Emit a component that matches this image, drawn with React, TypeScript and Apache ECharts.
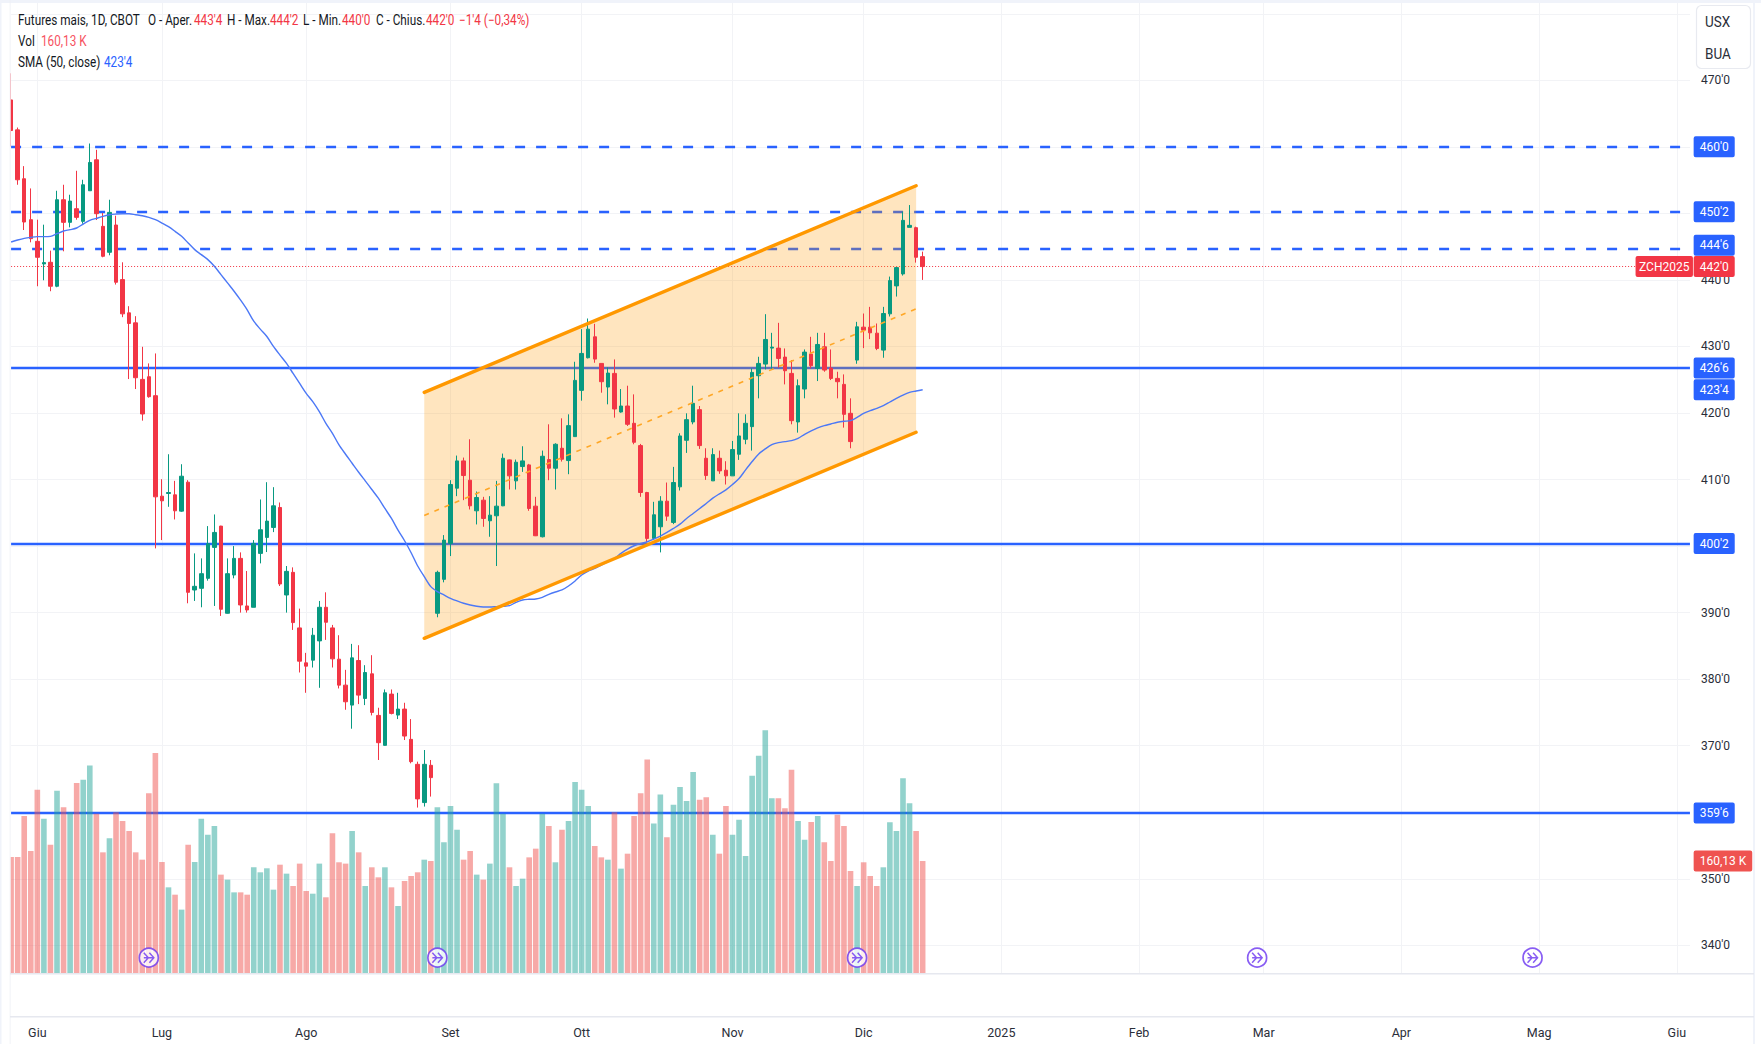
import React, { useEffect, useRef } from "react";
import * as echarts from "echarts";

const FONT = "'Roboto', 'Liberation Sans', sans-serif";
const BLUE = "#2962FF";
const RED = "#F23645";
const GREEN = "#089981";

const opens = [
467.05,462.55,455.2,449.05,445.8,442.4,442.65,439.05,452.05,448.65,450.7,448.8,453.4,458.05,448.05,444.15,448.25,440.05,435.05,433.55,
425.05,425.45,422.6,407.5,407.9,407.7,405.25,409.6,393.4,393.65,395.15,399.8,403.0,389.9,395.65,398.15,391.0,390.8,398.9,401.3,
402.8,405.8,392.65,396.05,387.7,382.45,382.85,385.75,390.8,387.7,383.0,379.1,376.1,382.8,377.1,380.8,374.55,370.05,377.75,374.6,
375.5,370.95,367.2,361.45,367.05,389.9,395.0,400.4,408.7,412.8,409.9,405.3,406.9,403.8,404.55,406.05,412.95,409.8,411.95,412.2,
406.0,401.4,413.0,411.7,414.7,412.85,416.45,423.4,428.3,431.45,427.45,423.9,425.95,420.15,421.05,418.45,415.1,408.05,401.15,402.9,
406.75,403.55,408.9,415.9,418.65,420.5,413.2,409.8,413.2,411.4,410.55,413.8,416.05,417.95,425.6,427.35,429.75,429.75,428.4,425.95,
418.65,423.6,428.85,426.7,429.95,426.75,425.2,424.3,419.95,427.95,432.9,432.9,432.0,429.45,434.9,439.1,440.9,447.9,447.85,443.5,
];
const closes = [
462.45,455.05,448.7,446.2,443.4,442.6,439.05,452.05,448.65,451.85,449.4,454.3,457.65,449.95,443.55,450.15,439.65,434.9,433.45,425.3,
419.85,422.45,407.4,406.8,408.05,405.3,410.5,393.05,393.95,395.85,400.35,402.05,390.5,395.85,398.15,391.15,390.4,400.4,402.45,403.75,
406.05,394.3,396.2,388.5,382.7,381.95,386.6,390.8,388.55,383.05,379.1,376.6,383.2,377.6,381.0,375.0,370.45,377.95,374.85,375.5,
371.45,367.6,362.0,367.2,365.2,396.05,400.9,409.25,412.8,410.6,406.05,407.3,404.15,404.65,406.0,413.2,410.55,412.6,412.8,405.65,
401.55,413.5,411.7,415.3,413.05,418.1,424.9,428.95,432.6,428.1,424.7,426.0,420.6,421.05,418.3,415.6,408.05,401.15,404.7,406.75,
404.5,409.55,416.55,419.0,421.45,415.1,410.6,413.75,411.3,410.55,414.5,416.55,418.45,426.1,427.45,431.05,429.9,428.2,426.35,418.85,
424.1,429.15,427.1,430.3,426.45,425.2,424.7,419.8,415.7,432.95,432.45,432.05,429.7,434.95,439.9,441.85,448.95,448.2,443.4,442.0,
];
const highs = [
471.05,462.9,457.1,453.75,449.05,448.3,444.4,453.4,454.3,452.8,456.4,455.05,460.5,459.55,450.05,452.05,449.65,442.65,436.05,434.55,
429.95,427.45,428.95,410.05,413.8,409.8,412.3,409.9,398.9,398.15,403.0,404.75,403.05,398.15,400.0,399.05,396.25,400.9,407.0,409.6,
408.85,406.55,397.0,396.8,390.6,383.95,387.7,391.75,393.05,388.15,386.6,381.4,385.3,385.1,382.1,383.6,375.7,378.45,378.45,377.95,
376.45,374.0,367.6,369.35,367.85,396.3,401.65,409.9,413.6,413.3,416.05,408.2,407.4,407.5,409.8,413.9,413.0,413.0,415.0,412.35,
407.4,414.35,418.3,415.45,419.2,419.8,427.7,432.6,434.2,433.4,427.45,426.85,428.05,423.6,424.1,422.8,415.35,408.15,406.65,407.5,
409.55,411.9,416.95,419.95,424.1,421.05,414.7,414.7,414.35,412.75,415.8,419.95,419.8,426.7,428.45,434.85,432.05,433.55,429.7,427.95,
425.05,429.55,431.45,432.05,432.05,429.55,426.2,425.8,422.2,433.7,434.95,435.95,433.45,435.95,440.5,441.9,450.25,451.25,448.0,444.25,
];
const lows = [
460.05,454.3,447.5,445.65,439.05,439.95,438.3,438.9,444.3,447.9,449.05,448.45,453.4,449.0,443.4,443.7,439.3,434.4,425.1,423.6,
418.85,422.3,399.65,400.9,405.9,404.0,405.15,391.4,391.75,390.8,394.8,391.0,389.5,389.85,395.15,390.0,390.0,390.8,397.4,399.1,
402.1,394.0,390.0,387.4,381.0,377.95,381.75,378.7,385.9,381.75,378.6,375.4,372.55,376.25,376.1,374.55,367.85,370.0,374.7,374.0,
370.85,367.35,360.7,360.85,362.35,389.3,394.55,398.5,407.5,406.9,405.5,403.25,402.9,401.4,397.0,406.0,408.5,408.5,411.15,405.3,
401.5,401.3,409.9,408.5,412.7,410.8,416.4,421.85,428.2,427.55,423.05,421.3,419.3,420.05,418.05,415.3,407.4,400.55,401.0,399.05,
403.8,403.3,408.35,414.0,418.3,414.6,409.95,409.8,410.85,409.25,410.55,412.95,415.3,414.35,422.2,426.55,426.55,426.8,424.3,418.3,
417.05,422.2,426.7,424.8,426.2,424.95,422.2,417.8,414.7,427.4,429.75,431.1,429.45,428.3,434.5,437.5,440.65,447.9,442.6,440.0,
];
const volumes = [
165.8,165.8,223.9,174.3,261.2,220.1,183.3,259.8,236.2,229.1,270.7,275.4,295.3,227.2,172.4,192.3,229.1,216.8,202.7,172.4,
162,256,313.2,158.7,122.8,112.4,91.2,183.3,158.7,220.1,197.5,209.7,140.8,133.7,115.7,115.7,112.4,151.2,144.1,149.8,
119.5,154.9,142.2,124.7,156.4,117.6,113.8,156.4,108.7,199.4,158.3,156.4,202.7,172.4,124.7,151.2,137,151.2,122.8,96.4,
131.8,138.9,144.1,162,160.1,236.2,186.6,238.1,204.5,162,174.3,140.8,133.7,156.4,270.2,227.2,151.2,124.7,135.1,165.3,
177.6,227.2,209.7,158.3,204.5,216.8,272.1,261.2,238.1,181.4,165.3,162,229.1,149.3,170.5,223.9,256,303.8,213.1,254.2,
193.7,240,265,245.2,286.3,247.1,250.4,197.5,170.5,238.1,197.5,218.7,167.2,281.1,309.4,345.3,249,249,234.8,289.6,
216.8,190.4,215.4,223.9,186.6,160.1,225.8,209.7,146,124.7,158.3,138.9,124.7,151.2,214.9,202.7,277.3,241.9,202.7,160.13,
];
const sma50 = [
445.7,446,446.25,446.4,446.5,446.5,446.55,446.95,447.35,447.55,447.8,448.4,448.95,449.25,449.55,449.8,449.9,449.95,449.95,449.8,
449.65,449.4,449.05,448.55,448,447.3,446.55,445.55,444.55,443.8,443.05,442.05,440.8,439.55,438.3,436.95,435.5,433.8,432.6,431.5,
430,428.7,427.45,425.95,424.45,422.95,421.7,420.2,418.45,416.95,415.2,413.8,412.45,411.1,409.8,408.5,407.2,405.65,404.15,402.4,
400.8,399,397,395.4,393.9,393.15,392.65,392.15,391.75,391.4,391.15,390.95,390.85,390.85,390.9,390.95,391.05,391.55,391.9,392,
392.05,392.3,392.75,393.1,393.4,394,394.75,395.65,396.25,396.65,397.15,397.65,398.15,398.9,399.55,400.05,400.4,400.65,401.05,401.5,
402.05,402.65,403.3,404.15,404.9,405.65,406.4,407.2,407.85,408.45,409.25,410.15,411.45,412.7,413.85,414.6,415.25,415.55,415.7,415.85,
416.2,416.8,417.3,417.75,418.1,418.35,418.6,418.75,418.85,419.35,419.95,420.35,420.7,421.1,421.65,422.2,422.7,423.1,423.3,423.5,
];

const slotCount = 257;
const categories = Array.from({ length: slotCount }, (_, i) => String(i));
const monthLabels: Record<string, string> = {
  "4": "Giu", "23": "Lug", "45": "Ago", "67": "Set", "87": "Ott", "110": "Nov", "130": "Dic",
  "151": "2025", "172": "Feb", "191": "Mar", "212": "Apr", "233": "Mag", "254": "Giu",
};
const priceLabelValues = [470, 440, 430, 420, 410, 390, 380, 370, 350, 340];
const priceGridValues = [480, 470, 460, 450, 440, 430, 420, 410, 400, 390, 380, 370, 360, 350, 340];

const dashedLevels = [
  { value: 460, tag: "460'0" },
  { value: 450.25, tag: "450'2" },
];
const solidLevels = [
  { value: 426.75, tag: "426'6" },
  { value: 400.37, tag: "400'2" },
  { value: 359.9, tag: "359'6" },
];
const level444 = 444.75;
const level444TagAt = 445.2;
const lastClose = 442;
const smaLast = 423.5;
const lastVolume = 160.13;

const channelX = [63, 138];
const channelTop = [423.1, 454.16];
const channelMid = [404.6, 435.65];
const channelBottom = [386.13, 417.1];

const eventIndexes = [21, 65, 129, 190, 232];
const eventVolumeLevel = 23.2;

const headerTexts = [
  { t: "Futures mais, 1D, CBOT", x: 18, y: 20, c: "#131722" },
  { t: "O - Aper.", x: 148, y: 20, c: "#131722" },
  { t: "443'4", x: 194, y: 20, c: RED },
  { t: "H - Max.", x: 227, y: 20, c: "#131722" },
  { t: "444'2", x: 270, y: 20, c: RED },
  { t: "L - Min.", x: 303, y: 20, c: "#131722" },
  { t: "440'0", x: 342, y: 20, c: RED },
  { t: "C - Chius.", x: 376, y: 20, c: "#131722" },
  { t: "442'0", x: 426, y: 20, c: RED },
  { t: "−1'4 (−0,34%)", x: 459, y: 20, c: RED },
  { t: "Vol", x: 18, y: 41, c: "#131722" },
  { t: "160,13 K", x: 41, y: 41, c: "#F7525F" },
  { t: "SMA (50, close)", x: 18, y: 62, c: "#131722" },
  { t: "423'4", x: 104, y: 62, c: BLUE },
];

const tag = (bg: string, extra: any = {}) => ({
  show: true,
  position: "end",
  distance: 3.7,
  color: "#fff",
  backgroundColor: bg,
  borderRadius: 2,
  fontFamily: FONT,
  fontSize: 12,
  lineHeight: 21,
  padding: [0, 6],
  ...extra,
});
const noLine = { color: "rgba(0,0,0,0)", width: 0 };

const option: any = {
  animation: false,
  backgroundColor: "#ffffff",
  grid: { left: 11.1, top: 3, width: 1678.85, height: 971, containLabel: false },
  xAxis: {
    type: "category",
    data: categories,
    boundaryGap: false,
    axisLine: { show: false },
    axisTick: { show: false },
    axisLabel: {
      interval: (i: number) => String(i) in monthLabels,
      formatter: (v: string) => monthLabels[v] ?? "",
      margin: 52,
      color: "#2A2E39",
      fontFamily: FONT,
      fontSize: 12.5,
    },
    splitLine: {
      show: true,
      interval: (i: number) => String(i) in monthLabels,
      lineStyle: { color: "#F2F3F6", width: 1 },
    },
  },
  yAxis: [
    {
      type: "value",
      position: "right",
      min: 335.687,
      max: 481.617,
      axisLine: { show: false },
      axisTick: { show: false, customValues: priceGridValues },
      axisLabel: {
        customValues: priceLabelValues,
        formatter: (v: number) => `${v}'0`,
        align: "left",
        margin: 11,
        padding: [3, 0, 0, 0],
        color: "#2A2E39",
        fontFamily: FONT,
        fontSize: 12,
      },
      splitLine: { show: true, lineStyle: { color: "#F2F3F6", width: 1 } },
    },
    { type: "value", show: false, min: 0, max: 1376, splitLine: { show: false } },
  ],
  series: [
    {
      type: "bar",
      yAxisIndex: 1,
      z: 1,
      barWidth: 5.6,
      data: volumes.map((v, i) => ({
        value: v,
        itemStyle: { color: closes[i] >= opens[i] ? "rgba(38,166,154,0.5)" : "rgba(239,83,80,0.5)" },
      })),
      markLine: {
        silent: true,
        symbol: "none",
        z: 8,
        data: [
          {
            yAxis: lastVolume,
            lineStyle: noLine,
            label: tag("#EF5350", { formatter: "160,13 K", padding: [0, 6] }),
          },
        ],
      },
    },
    {
      type: "custom",
      z: 2,
      silent: true,
      data: [[channelX[0], channelBottom[0]]],
      renderItem: (_p: any, api: any) => ({
        type: "polygon",
        shape: {
          points: [
            api.coord([channelX[0], channelTop[0]]),
            api.coord([channelX[1], channelTop[1]]),
            api.coord([channelX[1], channelBottom[1]]),
            api.coord([channelX[0], channelBottom[0]]),
          ],
        },
        style: { fill: "rgba(255,152,0,0.25)" },
      }),
    },
    {
      type: "candlestick",
      z: 3,
      barWidth: 4,
      data: opens.map((o, i) => [o, closes[i], lows[i], highs[i]]),
      itemStyle: { color: GREEN, color0: RED, borderColor: GREEN, borderColor0: RED, borderWidth: 1 },
      markLine: {
        silent: true,
        symbol: "none",
        z: 1,
        data: [
          ...dashedLevels.map((l) => ({
            yAxis: l.value,
            lineStyle: { color: BLUE, width: 2.4, type: [10, 11] },
            label: tag(BLUE, { formatter: l.tag }),
          })),
          {
            yAxis: level444,
            lineStyle: { color: BLUE, width: 2.4, type: [10, 11] },
            label: { show: false },
          },
          ...solidLevels.map((l) => ({
            yAxis: l.value,
            lineStyle: { color: BLUE, width: 2.4, type: "solid" },
            label: tag(BLUE, { formatter: l.tag }),
          })),
          { yAxis: smaLast, lineStyle: noLine, label: tag(BLUE, { formatter: "423'4" }) },
          { yAxis: level444TagAt, lineStyle: noLine, label: tag(BLUE, { formatter: "444'6" }) },
          {
            yAxis: lastClose,
            lineStyle: { color: RED, width: 1, type: [1, 2] },
            label: tag(RED, { formatter: "442'0" }),
          },
          {
            yAxis: lastClose,
            lineStyle: noLine,
            label: tag(RED, { formatter: "ZCH2025", align: "right", distance: 3, padding: [0, 3.5] }),
          },
        ],
      },
    },
    {
      type: "line",
      z: 4,
      data: sma50,
      smooth: 0.3,
      showSymbol: false,
      silent: true,
      lineStyle: { color: "#4C78F6", width: 1.4 },
    },
    {
      type: "line",
      z: 5,
      silent: true,
      showSymbol: false,
      data: channelX.map((x, i) => [x, channelTop[i]]),
      lineStyle: { color: "#FF9800", width: 3.4, cap: "round" },
    },
    {
      type: "line",
      z: 5,
      silent: true,
      showSymbol: false,
      data: channelX.map((x, i) => [x, channelBottom[i]]),
      lineStyle: { color: "#FF9800", width: 3.4, cap: "round" },
    },
    {
      type: "line",
      z: 5,
      silent: true,
      showSymbol: false,
      data: channelX.map((x, i) => [x, channelMid[i]]),
      lineStyle: { color: "#FFA726", width: 1.6, type: [5, 6] },
    },
    {
      type: "scatter",
      yAxisIndex: 1,
      z: 6,
      silent: true,
      symbol: "circle",
      symbolSize: 19,
      data: eventIndexes.map((i) => [i, eventVolumeLevel]),
      itemStyle: { color: "#ffffff", borderColor: "#6A35F0", borderWidth: 1.7 },
    },
    {
      type: "scatter",
      yAxisIndex: 1,
      z: 7,
      silent: true,
      symbol: "path://M0 0L4 4L0 8M0 4L9 4M5 0L9 4L5 8",
      symbolSize: 10,
      data: eventIndexes.map((i) => [i, eventVolumeLevel]),
      itemStyle: { color: "rgba(0,0,0,0)", borderColor: "#6A35F0", borderWidth: 1.5 },
    },
  ],
  graphic: [
    { type: "rect", z: 40, silent: true, shape: { x: 0, y: 0, width: 10.5, height: 1044 }, style: { fill: "#ffffff" } },
    { type: "rect", z: 50, silent: true, shape: { x: 0, y: 0, width: 1761, height: 3 }, style: { fill: "#F0F3FA" } },
    { type: "rect", z: 50, silent: true, shape: { x: 0, y: 0, width: 1.5, height: 1044 }, style: { fill: "#F0F3FA" } },
    { type: "rect", z: 50, silent: true, shape: { x: 9.7, y: 0, width: 0.8, height: 1044 }, style: { fill: "#EEF0F5" } },
    { type: "rect", z: 50, silent: true, shape: { x: 1753, y: 0, width: 2, height: 1044 }, style: { fill: "#F0F3FA" } },
    { type: "rect", z: 50, silent: true, shape: { x: 10, y: 973, width: 1744, height: 1.5 }, style: { fill: "#E6E8EF" } },
    { type: "rect", z: 50, silent: true, shape: { x: 10, y: 1016, width: 1744, height: 1.5 }, style: { fill: "#E6E8EF" } },
    {
      type: "rect",
      z: 60,
      silent: true,
      shape: { x: 1696.5, y: 5.5, width: 54, height: 63, r: 5 },
      style: { fill: "#ffffff", stroke: "#E8EAF0", lineWidth: 1.2 },
    },
    {
      type: "text",
      z: 61,
      silent: true,
      x: 1705,
      y: 22,
      scaleX: 0.87,
      style: { text: "USX", fill: "#2A2E39", font: `15.5px ${FONT}`, verticalAlign: "middle" },
    },
    {
      type: "text",
      z: 61,
      silent: true,
      x: 1705,
      y: 54,
      scaleX: 0.87,
      style: { text: "BUA", fill: "#2A2E39", font: `15.5px ${FONT}`, verticalAlign: "middle" },
    },
    ...headerTexts.map((h) => ({
      type: "text",
      z: 61,
      silent: true,
      x: h.x,
      y: h.y,
      scaleX: 0.84,
      style: { text: h.t, fill: h.c, font: `14px ${FONT}`, verticalAlign: "middle" },
    })),
  ],
};

export default function App() {
  const ref = useRef<HTMLDivElement>(null);
  useEffect(() => {
    const chart = echarts.init(ref.current!, undefined, { renderer: "svg" });
    chart.setOption(option);
    return () => chart.dispose();
  }, []);
  return <div ref={ref} style={{ position: "fixed", left: 0, top: 0, width: 1761, height: 1044, background: "#fff" }} />;
}
